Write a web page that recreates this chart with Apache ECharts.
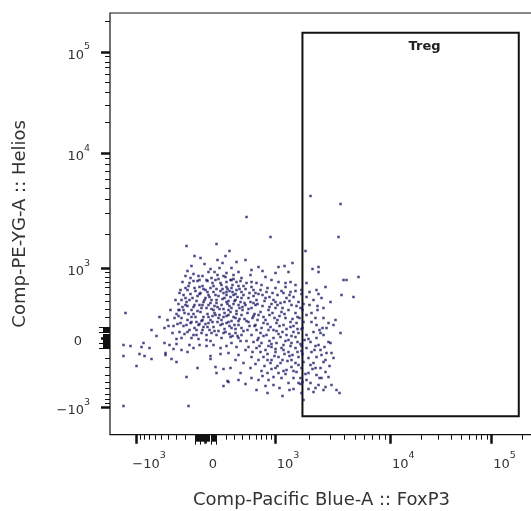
<!DOCTYPE html>
<html><head><meta charset="utf-8">
<script src="https://cdn.jsdelivr.net/npm/echarts@6/dist/echarts.min.js"></script>
<style>html,body{margin:0;padding:0;background:#fff}#c{width:531px;height:511px}</style>
</head><body><div id="c"></div>
<script>
// ---------- texts ----------
const xTitle = 'Comp-Pacific Blue-A :: FoxP3';
const yTitle = 'Comp-PE-YG-A :: Helios';
const gateName = 'Treg';

// ---------- axis ticks (raw fluorescence values) ----------
const majorTickValues = [-1000, 0, 1000, 10000, 100000];
const majorTickLabels = ['−10^3', '0', '10^3', '10^4', '10^5'];
const zeroLongTickValues = [-100, -50, 50, 100];
const zeroShortTickValues = [-90,-80,-70,-60,-40,-30,-20,-10,10,20,30,40,60,70,80,90];
const minorTickValues = [-900,-800,-700,-600,-500,-400,-300,-200,200,300,400,500,600,700,800,900,
  2000,3000,4000,5000,6000,7000,8000,9000,20000,30000,40000,50000,60000,70000,80000,90000,200000];

// ---------- Treg gate (raw values) ----------
const gateFoxp3 = [1730, 186000];
const gateHelios = [-1190, 155000];

// ---------- events, in biexponential channel units (0 = zero signal) ----------
const foxp3Channel = [
  -19,11,24,-11,-1,17,-18,9,-8,-6,-16,-17,1,13,20,-6,0,5,15,21,-5,3,8,18,-27,-26,-22,-19,-14,-8,-6,-2,1,5,8,11,16,21,23,-80,-46,-27,-18,-14,-9,-2,5,10,16,
  -54,-41,-37,-32,-19,-11,-7,-2,3,8,15,21,-49,-26,-21,-16,-9,-4,1,6,11,18,-29,-24,-14,-7,1,5,16,-82,
  -75,-62,-64,-56,-41,-36,-32,-29,-24,-18,-16,-12,-6,1,8,15,21,-40,-40,-82,-66,-61,-54,-34,-29,-69,5,5,15,-8,
  10,11,18,-19,22,18,-82,-17,
  135,41,133,65,100,53,57,73,79,87,70,83,107,113,113,153,138,141,101,136,148,60,66,73,80,85,90,56,51,105,
  31,40,21,28,46,45,21,26,31,36,41,46,21,26,31,36,25,30,36,26,33,23,30,36,26,33,30,
  135,128,130,126,125,105,110,115,120,123,116,111,103,101,105,110,113,120,126,131,103,108,118,134,98,77,88,23,33,86,
  81,91,70,73,68,63,76,88,53,46,35,33,23,40,51,25,33,31,26,
  46,55,61,70,80,111,120,43,51,60,68,75,81,88,93,101,108,116,125,46,55,63,70,76,83,90,95,
  101,106,111,110,118,123,121,43,50,58,65,71,78,85,91,46,53,61,68,75,83,90,93,101,105,111,118,123,
  43,51,60,66,76,83,90,101,106,115,121,46,58,66,73,86,93,103,111,120,128,
  -20,-12,-3,6,12,25,33,38,-10,-3,7,11,17,24,28,33,40,44,-22,-13,-8,0,6,13,19,23,28,35,40,45,
  -24,-18,-11,-4,3,9,14,19,24,31,37,42,48,-29,-21,-12,-5,2,7,13,18,26,33,39,44,-25,-15,-4,0,12,
  24,30,38,-9,9,20,27,36,41,-20,-26,14,26,-14,3,-23,30,48,50,52,
  50,57,64,72,78,85,96,104,113,48,57,66,72,79,86,98,104,112,118,49,58,64,69,74,80,87,94,98,114,
  51,55,63,71,77,81,88,96,108,115,48,56,64,71,78,86,95,99,113,119,55,62,70,79,87,96,109,
  50,59,65,75,82,93,98,108,118,56,62,78,95,100,60,68,83,95,45,38,30,25,40,35,
  96,97,97,96,97,96,97,96,
  -15,-7,2,10,18,28,35,-18,-11,-2,8,16,22,27,34,-20,-15,-6,2,10,15,21,27,32,38,
  -23,-16,-9,-1,4,11,17,22,29,34,39,-27,-20,-12,-3,6,12,18,25,31,37,43,
  -31,-24,-17,-10,-3,3,9,14,21,28,34,41,-28,-22,-14,-6,2,7,17,23,29,36,42,
  -18,-12,-3,4,13,19,24,32,-33,-38,-35,-30,-25,-12,5,12,-5,20,
  48,53,62,67,76,84,90,52,59,64,70,77,84,91,47,53,60,67,72,79,85,92,
  49,56,62,68,74,81,88,92,52,58,66,73,80,86,92,47,54,63,70,78,85,92,
  53,62,69,77,84,90,57,66,72,80,88,93,74,84,62,106,112,117,103,110,116,107,114,124
];
const heliosChannel = [
  92,94,87,82,74,75,67,66,57,58,55,52,58,59,61,51,48,50,55,51,45,43,46,45,34,28,28,36,28,27,33,36,30,35,28,38,33,36,28,25,21,22,18,21,16,21,18,23,18,
  8,10,12,12,13,10,13,11,15,11,13,15,2,6,4,8,3,5,3,5,3,5,-1,0,0,-1,-2,-3,0,-7,
  -8,-5,-9,-10,-5,-7,-11,-6,-12,-14,-7,-10,-7,-8,-7,-10,-8,-15,-17,-18,-16,-18,-21,-21,-24,-28,-18,-21,-16,-30,
  -29,-35,-31,-39,-43,-48,-68,-68,
  134,121,101,101,87,71,67,71,72,75,65,66,69,71,66,61,58,58,55,43,41,61,58,56,55,56,53,53,55,142,
  76,78,65,63,68,63,56,58,56,60,55,56,46,50,48,46,41,38,40,30,33,23,20,23,10,13,5,
  5,13,18,-15,-5,-27,-30,-30,-34,-39,-40,-37,-35,-42,-45,-50,-47,-49,-47,-52,-51,-54,-52,-55,-62,-58,-51,-15,-17,-29,
  -32,-34,-30,-35,-39,-42,-40,-40,-42,-40,-35,-42,-44,-46,-52,1,0,-9,-5,
  51,48,46,50,51,48,51,40,38,40,38,35,40,41,36,41,38,40,36,30,26,28,30,26,28,25,30,
  23,16,13,20,20,15,10,16,13,15,11,15,13,11,15,3,0,3,0,1,-2,1,5,3,-4,0,3,-4,
  -9,-10,-12,-9,-10,-14,-10,-10,-14,-12,-15,-19,-19,-22,-19,-22,-19,-20,-19,-22,-20,
  62,64,62,60,63,58,66,52,47,52,55,49,49,47,43,52,49,45,43,40,42,40,38,42,40,37,34,36,33,36,
  38,32,33,30,33,32,29,25,32,27,28,25,22,24,25,24,26,24,22,20,21,17,17,19,12,15,15,17,14,16,
  12,9,7,8,7,6,2,3,-3,50,45,70,70,72,66,56,44,42,33,18,
  45,43,41,43,45,46,44,46,44,35,32,34,33,36,33,34,33,32,30,24,21,23,20,22,20,19,20,16,8,
  8,5,8,7,6,3,6,9,6,5,-4,-5,-3,-5,-7,-5,-6,-2,-7,-9,-14,-16,-14,-16,-17,-13,-12,
  -26,-28,-25,-25,-23,-27,-24,-25,-24,-33,-35,-33,-40,-36,-48,-47,-45,-46,-30,-25,-22,-30,-12,-3,
  48,28,10,-8,-16,-30,-44,-55,
  60,62,57,58,62,59,57,48,50,49,52,53,49,53,49,40,44,44,46,43,47,43,46,41,43,
  31,38,37,38,41,35,39,34,37,30,35,28,33,31,33,29,31,29,26,24,31,29,
  20,20,24,21,18,21,25,23,22,21,19,17,14,12,16,14,11,16,14,16,13,10,8,
  6,3,8,8,7,9,4,2,5,18,28,38,48,57,69,78,80,82,
  48,44,50,45,47,43,47,34,37,31,36,30,37,32,20,23,18,25,18,24,16,21,
  12,10,14,8,12,9,12,9,-2,2,-6,4,-3,2,-4,-14,-8,-8,-11,-12,-8,-14,
  -22,-22,-18,-22,-18,-25,-38,-31,-28,-36,-33,-45,-50,-52,-55,25,28,10,-1,-8,-17,-31,-40,-28
];

// biexponential display transform: raw value -> channel
function biex(v) {
  const a = Math.abs(v), s = v < 0 ? -1 : 1;
  let c;
  if (a <= 1000) c = 69.5 * Math.asinh(2.5 * a / 1000) / Math.asinh(2.5);
  else if (a <= 10000) c = 69.5 + Math.log10(a / 1000) * 115.3;
  else c = 184.8 + Math.log10(a / 10000) * 101.2;
  return s * c;
}

const majorCh = majorTickValues.map(biex);
const zeroLongCh = zeroLongTickValues.map(biex);
const zeroShortCh = zeroShortTickValues.map(biex);
const minorCh = minorTickValues.map(biex);
const X_RANGE = [-95.5, 327.5];
const Y_RANGE = [-96.7, 325];

function labelFor(v) {
  let best = 0, d = Infinity;
  majorCh.forEach((c, i) => { const dd = Math.abs(c - v); if (dd < d) { d = dd; best = i; } });
  return majorTickLabels[best];
}
function richLabel(lab, isX) {
  let core;
  if (lab.indexOf('^') >= 0) {
    const parts = lab.split('^');
    core = '{b|' + parts[0] + '}{s|' + parts[1] + '}';
  } else core = '{b|' + lab + '}';
  if (isX) return (lab === '0' ? '{sp0| }' : '{sp| }') + core;
  return lab === '0' ? core + '{pr| }' : core;
}
const richStyles = {
  b: { fontSize: 13, color: '#333', fontFamily: 'DejaVu Sans', verticalAlign: 'bottom', lineHeight: 20 },
  s: { fontSize: 9.5, color: '#333', fontFamily: 'DejaVu Sans', verticalAlign: 'top', lineHeight: 20 },
  sp: { width: 26 },
  sp0: { width: 15 },
  pr: { width: 8 }
};

const data = foxp3Channel.map((x, i) => [x, heliosChannel[i]]);

function makeAxis(kind, values, len, width, withLabels, range) {
  const ax = {
    type: 'value', min: range[0], max: range[1], gridIndex: 0,
    position: kind === 'x' ? 'bottom' : 'left', offset: 0,
    axisLine: { show: false, onZero: false },
    splitLine: { show: false },
    axisTick: { show: true, inside: false, length: len, customValues: values,
      lineStyle: { color: '#111', width: width } },
    axisLabel: { show: false }
  };
  if (withLabels) {
    ax.axisLabel = {
      show: true, customValues: majorCh, margin: kind === 'x' ? 16 : 20,
      formatter: v => richLabel(labelFor(v), kind === 'x'),
      rich: richStyles
    };
  }
  return ax;
}

const chart = echarts.init(document.getElementById('c'), null, { renderer: 'canvas' });
chart.setOption({
  animation: false,
  backgroundColor: '#fff',
  grid: { left: 110, top: 13, width: 423, height: 421.7, show: true,
    outerBoundsMode: 'none', containLabel: false,
    borderColor: '#111', borderWidth: 1.2, backgroundColor: '#fff' },
  xAxis: [
    Object.assign(makeAxis('x', majorCh, 9, 2.5, true, X_RANGE), {
      name: xTitle, nameLocation: 'middle', nameGap: 57,
      nameTextStyle: { fontSize: 18, color: '#333', fontFamily: 'DejaVu Sans' }
    }),
    makeAxis('x', minorCh, 5, 1, false, X_RANGE),
    makeAxis('x', zeroLongCh, 10, 1, false, X_RANGE),
    makeAxis('x', zeroShortCh, 7, 1, false, X_RANGE)
  ],
  yAxis: [
    Object.assign(makeAxis('y', majorCh, 9, 2.5, true, Y_RANGE), {
      name: yTitle, nameLocation: 'middle', nameGap: 81, nameRotate: 90,
      nameTextStyle: { fontSize: 18, color: '#333', fontFamily: 'DejaVu Sans' }
    }),
    makeAxis('y', minorCh, 5, 1, false, Y_RANGE),
    makeAxis('y', zeroLongCh, 11, 1, false, Y_RANGE),
    makeAxis('y', zeroShortCh, 7, 1, false, Y_RANGE)
  ],
  series: [{
    type: 'scatter', xAxisIndex: 0, yAxisIndex: 0,
    symbol: 'rect', symbolSize: 2.5,
    itemStyle: { color: '#1a1a6a' },
    data: data,
    markArea: {
      silent: true,
      itemStyle: { color: 'rgba(0,0,0,0)', borderColor: '#111', borderWidth: 2 },
      label: { show: true, position: 'insideTop', distance: 8, offset: [14, 0],
        formatter: gateName, fontWeight: 'bold', fontSize: 13, color: '#222', fontFamily: 'DejaVu Sans' },
      data: [[
        { xAxis: biex(gateFoxp3[0]), yAxis: biex(gateHelios[1]) },
        { xAxis: biex(gateFoxp3[1]), yAxis: biex(gateHelios[0]) }
      ]]
    }
  }]
});
</script></body></html>
